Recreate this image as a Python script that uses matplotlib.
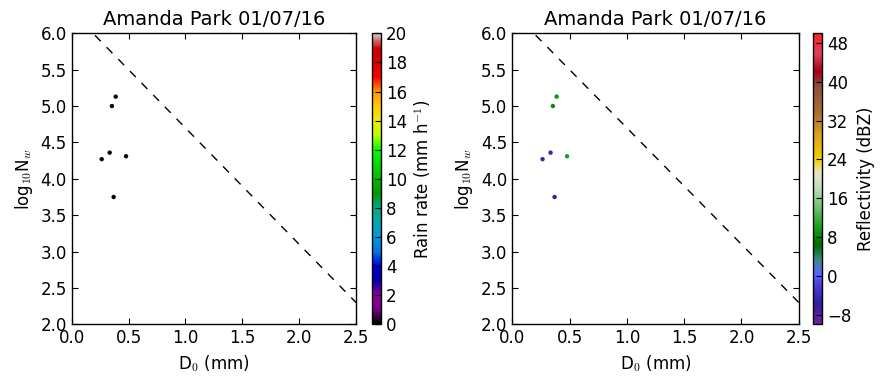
import numpy as np
import matplotlib
matplotlib.use('Agg')
import matplotlib.pyplot as plt
from matplotlib.colors import LinearSegmentedColormap

params = {'font.size': 12,
          'mathtext.fontset': 'cm',
          'xtick.direction': 'in',
          'ytick.direction': 'in',
          'xtick.top': True,
          'ytick.right': True,
          'xtick.major.size': 4,
          'ytick.major.size': 4,
          'axes.linewidth': 1.0}
plt.rcParams.update(params)

# data
d0 = [0.387, 0.354, 0.334, 0.264, 0.478, 0.369]
log_nw = [5.13, 5.00, 4.36, 4.27, 4.31, 3.75]
rain_rate = [0.2, 0.2, 0.1, 0.1, 0.2, 0.1]
refl = [9.0, 8.5, -5.0, -8.0, 10.0, -6.0]

line_x = [0.0, 2.5]
line_y = [6.3, 2.3]

title = 'Amanda Park 01/07/16'
rr_ticks = np.arange(0, 21, 2)
dbz_ticks = np.arange(-8, 49, 8)

# reflectivity colour table (approximated from the colorbar)
dbz_colors = [(0.00, '#70209a'), (0.07, '#3020a0'), (0.13, '#4a3ad0'),
              (0.17, '#6060ff'), (0.22, '#3a8a8a'), (0.27, '#006a00'),
              (0.33, '#10a010'), (0.40, '#70c070'), (0.47, '#c0dcc0'),
              (0.52, '#e8e4c0'), (0.57, '#f0d000'), (0.65, '#e0a020'),
              (0.72, '#b07030'), (0.82, '#8a5040'), (0.87, '#a00010'),
              (0.93, '#e04060'), (1.00, '#ff2020')]
dbz_cmap = LinearSegmentedColormap.from_list('dbz', dbz_colors)

fig = plt.figure(figsize=(8.86, 3.86), dpi=100)
fig.patch.set_facecolor('white')

ax1 = fig.add_axes([0.0809, 0.1598, 0.3209, 0.7539])
cax1 = fig.add_axes([0.4195, 0.1598, 0.0105, 0.7539])
ax2 = fig.add_axes([0.5782, 0.1598, 0.3233, 0.7539])
cax2 = fig.add_axes([0.9175, 0.1598, 0.0105, 0.7539])

sc1 = ax1.scatter(d0, log_nw, c=rain_rate, cmap='nipy_spectral', vmin=0, vmax=20,
                  s=10, edgecolors='none', zorder=3)
sc2 = ax2.scatter(d0, log_nw, c=refl, cmap=dbz_cmap, vmin=-10, vmax=50,
                  s=10, edgecolors='none', zorder=3)

for ax in [ax1, ax2]:
    ax.plot(line_x, line_y, 'k--', lw=1, dashes=(6, 6))
    ax.set_xlim(0, 2.5)
    ax.set_ylim(2.0, 6.0)
    ax.set_xticks(np.arange(0, 2.51, 0.5))
    ax.set_yticks(np.arange(2.0, 6.01, 0.5))
    ax.xaxis.set_major_formatter(plt.FormatStrFormatter('%.1f'))
    ax.yaxis.set_major_formatter(plt.FormatStrFormatter('%.1f'))
    ax.set_xlabel(r'D$_0$ (mm)')
    ax.set_ylabel(r'log$_{10}$N$_w$')
    ax.set_title(title, fontsize=14)

cb1 = fig.colorbar(sc1, cax=cax1, ticks=rr_ticks)
cb1.set_label(r'Rain rate (mm h$^{-1}$)')
cb2 = fig.colorbar(sc2, cax=cax2, ticks=dbz_ticks)
cb2.set_label('Reflectivity (dBZ)')
for cb in [cb1, cb2]:
    cb.ax.tick_params(direction='in', length=4)

fig.savefig('out.png', dpi=100)
